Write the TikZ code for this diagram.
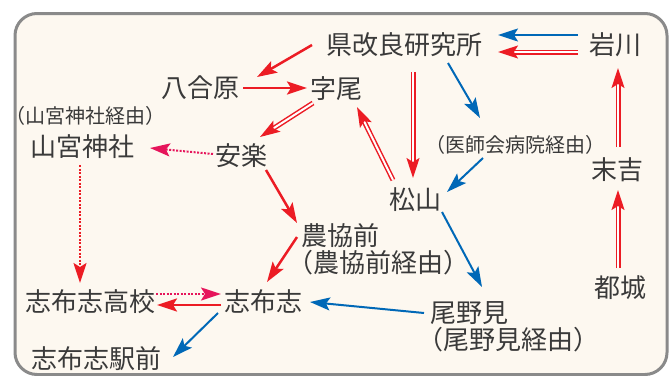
\documentclass[tikz,border=0pt]{standalone}
\usepackage{fontspec}
\newfontfamily\jp[RawFeature=+halt]{Noto Sans CJK JP}
\usetikzlibrary{arrows.meta,calc}
\definecolor{cred}{HTML}{EC1C24}
\definecolor{cblue}{HTML}{0068B7}
\definecolor{cmag}{HTML}{E6155B}
\definecolor{ctext}{HTML}{3A3A3A}
\definecolor{cbg}{HTML}{FDF8F0}
\definecolor{cframe}{HTML}{8A8A8A}
\tikzset{
  lab/.style={font=\jp\fontsize{26}{28}\selectfont, text=ctext, inner sep=0pt},
  slab/.style={font=\jp\fontsize{20}{22}\selectfont, text=ctext, inner sep=0pt},
  arr/.style={-{Stealth[length=20pt,width=13pt,inset=4pt]}},
  redone/.style={draw=cred, line width=2.5pt, arr},
  reddbl/.style={draw=cred, double=white, double distance=2pt, line width=1.5pt, arr},
  blueone/.style={draw=cblue, line width=2pt, arr},
  dotmag/.style={draw=cmag, line width=2pt, dash pattern=on 2pt off 1.5pt, arr},
  dotred/.style={draw=cred, line width=2pt, dash pattern=on 2pt off 1.5pt, arr},
}
\begin{document}
\begin{tikzpicture}[x=1pt,y=-1pt]
\useasboundingbox (0,0) rectangle (669,375);
\fill[white] (0,0) rectangle (669,375);
\draw[cframe, fill=cbg, line width=3pt, rounded corners=22pt] (15,13.5) rectangle (667,374.5);

\node[lab] (ken) at (404,45) {県改良研究所};
\node[lab] (iwa) at (615,45) {岩川};
\node[lab] (hachi) at (200,88) {八合原};
\node[lab] (azao) at (336,89) {字尾};
\node[slab] (yamav) at (86,116) {（山宮神社経由）};
\node[lab] (yama) at (82,147) {山宮神社};
\node[lab] (anraku) at (241,156) {安楽};
\node[slab] (ishi) at (515,145) {（医師会病院経由）};
\node[lab] (sue) at (617,170) {末吉};
\node[lab] (matsu) at (415,200) {松山};
\node[lab] (nokyo) at (340,236) {農協前};
\node[lab] (nokyov) at (378,263) {（農協前経由）};
\node[lab] (miyako) at (620,288) {都城};
\node[lab] (onomi) at (469,313) {尾野見};
\node[lab] (onomiv) at (508,340) {（尾野見経由）};
\node[lab] (koko) at (90,302) {志布志高校};
\node[lab] (shibu) at (263,302) {志布志};
\node[lab] (eki) at (96,359) {志布志駅前};

% red single
\draw[redone] ($(ken)+(-92,0)$) -- ($(hachi)+(57,-11)$);
\draw[redone] ($(hachi)+(43,0)$) -- ($(azao)+(-29,-1)$);
\draw[redone] ($(anraku)+(25,14)$) -- ($(nokyo)+(-43,-13)$);
\draw[redone] ($(nokyo)+(-43,1)$) -- ($(shibu)+(4,-20)$);
\draw[redone] ($(shibu)+(-42,3)$) -- ($(koko)+(67,3)$);
% red double
\draw[reddbl] ($(azao)+(-23,14)$) -- ($(anraku)+(19,-19)$);
\draw[reddbl] ($(ken)+(9,27)$) -- ($(matsu)+(-2,-22)$);
\draw[reddbl] ($(matsu)+(-22,-20)$) -- ($(azao)+(21,18)$);
\draw[reddbl] ($(iwa)+(-37,7)$) -- ($(ken)+(94,7)$);
\draw[reddbl] ($(sue)+(1,-23)$) -- ($(iwa)+(3,23)$);
\draw[reddbl] ($(miyako)+(-2,-20)$) -- ($(sue)+(1,20)$);
% blue
\draw[blueone] ($(iwa)+(-37,-10)$) -- ($(ken)+(94,-10)$);
\draw[blueone] ($(ken)+(44,18)$) -- ($(ishi)+(-35,-27)$);
\draw[blueone] ($(ishi)+(-32,13)$) -- ($(matsu)+(32,-8)$);
\draw[blueone] ($(matsu)+(27,12)$) -- ($(onomi)+(13,-26)$);
\draw[blueone] ($(onomi)+(-45,0)$) -- ($(shibu)+(47,0)$);
\draw[blueone] ($(shibu)+(-45,11)$) -- ($(eki)+(77,-2)$);
% dotted
\draw[dotmag] ($(anraku)+(-28,-2)$) -- ($(yama)+(68,1)$);
\draw[dotred] ($(yama)+(-2,18)$) -- ($(koko)+(-10,-19)$);
\draw[dotmag] ($(koko)+(66,-8)$) -- ($(shibu)+(-42,-8)$);
\end{tikzpicture}
\end{document}
